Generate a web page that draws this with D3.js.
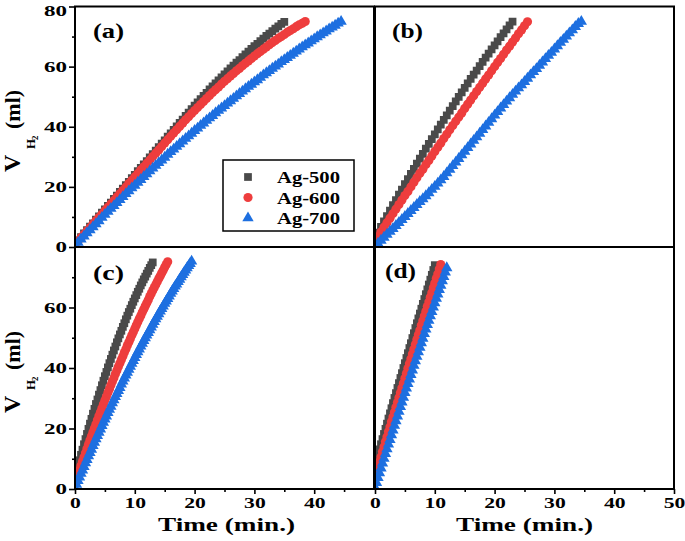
<!DOCTYPE html>
<html><head><meta charset="utf-8">
<script src="https://cdn.jsdelivr.net/npm/d3@7"></script>
<style>body{margin:0;background:#fff} text{font-family:'Liberation Serif','Times New Roman',serif;font-weight:bold}</style>
</head><body><svg id="chart" width="685" height="541"></svg>
<script>
// ---------------- data ----------------
const seriesNames = ["Ag-500", "Ag-600", "Ag-700"];
const panelLabels = ["(a)", "(b)", "(c)", "(d)"];
const xTickLabels = [0, 10, 20, 30, 40, 50];
const yTickLabels = [0, 20, 40, 60, 80];
const sampleIntervals = [0.5, 0.5, 0.25, 0.25]; // min between readings, per panel

// V_H2 (ml) readings, one per sample interval starting at t = 0
const a500 = [1.0,2.2,3.3,4.5,5.6,6.8,7.9,9.1,10.2,11.4,12.5,13.7,14.8,16.0,17.1,18.3,19.4,20.6,21.7,22.9,24.0,25.2,26.3,27.5,28.6,29.8,30.9,32.1,33.2,34.4,35.5,36.7,37.8,39.0,40.1,41.3,42.4,43.6,44.7,45.9,47.0,
  48.1,49.2,50.3,51.3,52.4,53.4,54.4,55.4,56.4,57.4,58.4,59.4,60.3,61.3,62.2,63.2,64.1,65.0,65.9,66.8,67.6,68.5,69.3,70.2,71.0,71.8,72.6,73.4,74.2,74.9];
const a600 = [0.8,1.9,3.1,4.2,5.3,6.4,7.6,8.7,9.8,10.9,12.1,13.2,14.3,15.4,16.6,17.7,18.8,19.9,21.1,22.2,23.3,24.4,25.6,26.7,27.8,28.9,30.1,31.2,32.3,33.4,34.6,35.7,36.8,
  37.9,39.0,40.1,41.2,42.3,43.3,44.4,45.4,46.4,47.4,48.4,49.4,50.4,51.4,52.3,53.2,54.2,55.1,56.0,56.9,57.7,58.6,59.4,60.3,61.1,61.9,62.7,63.5,64.3,65.0,65.8,66.5,67.3,68.0,68.7,69.4,70.0,70.7,71.4,72.0,72.6,73.3,73.9,74.4,75.0];
const a700 = [0.5,1.5,2.6,3.6,4.7,5.7,6.7,7.7,8.7,9.8,10.8,11.8,12.8,13.7,14.7,15.7,16.7,17.7,18.6,19.6,20.5,21.5,22.4,23.4,24.3,25.3,26.2,27.1,28.0,28.9,29.8,30.8,31.7,32.5,33.4,34.3,35.2,36.1,36.9,37.8,38.7,39.5,40.4,41.2,42.1,42.9,43.7,44.6,45.4,46.2,47.0,47.8,48.6,49.4,50.2,51.0,51.8,52.6,53.4,54.1,54.9,55.6,56.4,57.2,57.9,58.6,59.4,60.1,60.8,61.6,62.3,63.0,63.7,64.4,65.1,65.8,66.5,67.2,67.8,68.5,69.2,69.9,70.5,71.2,71.8,72.5,73.1,73.7,74.4,75.0];

const b500 = [3.0,4.8,6.7,8.5,10.3,12.1,13.9,15.6,17.4,19.1,20.9,22.6,24.3,26.0,27.7,29.4,31.0,32.7,34.3,35.9,37.5,39.1,40.7,42.3,43.8,45.4,46.9,48.4,49.9,51.4,52.9,54.4,55.9,57.3,58.7,60.2,61.6,63.0,64.3,65.7,67.1,68.4,69.8,71.1,72.4,73.7,75.0];
const b600 = [2.0,3.5,5.0,6.6,8.1,9.6,11.1,12.6,14.1,15.6,17.1,18.5,20.0,21.5,23.0,24.5,25.9,27.4,28.8,30.3,31.8,33.2,34.6,36.1,37.5,39.0,40.4,41.8,43.2,44.6,46.1,47.5,48.9,50.3,51.7,53.1,54.5,55.9,57.2,58.6,60.0,61.4,62.7,64.1,65.5,66.8,68.2,69.5,70.9,72.2,73.6,74.9];
const b700 = [0.2,1.2,2.2,3.2,4.2,5.2,6.1,7.1,8.1,9.1,10.1,11.1,12.1,13.1,14.1,15.1,16.0,17.0,18.0,19.1,20.1,
  21.2,22.3,23.4,24.6,25.8,27.0,28.2,29.4,30.6,31.8,33.0,34.2,35.4,36.6,37.8,39.0,40.2,41.4,42.6,43.8,45.0,46.2,47.3,48.5,
  49.6,50.7,51.8,52.9,53.9,55.0,56.1,57.2,58.3,59.3,60.4,61.5,62.6,63.7,64.7,65.8,66.9,68.0,69.0,70.1,71.2,72.2,73.3,74.3,75.0];

const c500 = [4.0,5.8,7.7,9.5,11.3,13.0,14.8,16.5,18.2,19.9,21.6,23.2,24.9,26.5,28.1,29.6,31.2,32.7,34.3,35.8,37.3,38.7,40.2,41.6,43.0,44.4,45.8,47.1,48.5,49.8,51.1,52.3,53.6,54.8,56.1,57.3,58.5,59.6,60.8,61.9,63.0,64.1,65.2,66.2,67.3,68.3,69.3,70.2,71.2,72.1,73.1,74.0,74.9];
const c600 = [2.0,3.4,4.9,6.3,7.7,9.1,10.5,11.9,13.3,14.7,16.1,17.4,18.8,20.1,21.4,22.8,24.1,25.4,26.7,28.0,29.3,30.5,31.8,33.0,34.3,35.5,36.7,38.0,39.2,40.4,41.6,42.7,43.9,45.1,46.2,47.4,48.5,49.7,50.8,51.9,53.0,54.1,55.2,56.3,57.3,58.4,59.4,60.5,61.5,62.5,63.6,64.6,65.6,66.6,67.5,68.5,69.5,70.4,71.4,72.3,73.3,74.2,75.1];
const c700 = [0.3,1.5,2.7,3.9,5.1,6.2,7.4,8.6,9.7,10.9,12.0,13.1,14.3,15.4,16.5,17.6,18.7,19.8,20.9,22.0,23.1,24.1,25.2,26.3,27.3,28.4,29.4,30.5,31.5,32.5,33.5,34.6,35.6,36.6,37.6,38.5,39.5,40.5,41.5,42.4,43.4,44.4,45.3,46.2,47.2,48.1,49.0,49.9,50.8,51.7,52.6,53.5,54.4,55.3,56.2,57.0,57.9,58.8,59.6,60.4,61.3,62.1,62.9,63.7,64.6,65.4,66.2,67.0,67.7,68.5,69.3,70.1,70.8,71.6,72.3,73.1,73.8,74.5,75.3];

const d500 = [8.0,9.7,11.4,13.1,14.8,16.5,18.2,19.9,21.6,23.3,25.0,26.7,28.4,30.1,31.7,33.4,35.0,36.7,38.3,40.0,41.6,43.3,44.9,46.6,48.2,49.9,51.5,53.2,54.8,56.4,58.0,59.6,61.2,62.8,64.4,66.0,67.6,69.2,70.8,72.4,74.0];
const d600 = [4.0,5.6,7.3,9.0,10.6,12.3,13.9,15.6,17.2,18.9,20.5,22.2,23.8,25.4,27.0,28.6,30.2,31.8,33.4,35.0,36.6,38.2,39.8,41.4,43.0,44.6,46.2,47.8,49.4,51.0,52.5,54.1,55.6,57.2,58.7,60.3,61.8,63.4,64.9,66.5,68.0,69.6,71.1,72.7,74.2];
const d700 = [0.5,2.1,3.7,5.3,6.9,8.5,10.1,11.7,13.2,14.8,16.3,17.9,19.4,21.0,22.5,24.1,25.6,27.2,28.7,30.3,31.8,33.3,34.8,36.3,37.8,39.3,40.8,42.3,43.8,45.3,46.8,48.3,49.8,51.3,52.8,54.3,55.7,57.2,58.6,60.1,61.5,63.0,64.4,65.9,67.3,68.8,70.2,71.7,73.1];

const panelSeries = [[a500, a600, a700], [b500, b600, b700], [c500, c600, c700], [d500, d600, d700]];

// ---------------- style / layout ----------------
const colors = ["#4a4a4a", "#ee3d3d", "#1d6fe0"];
const symbols = [d3.symbolSquare, d3.symbolCircle, d3.symbolTriangle];
const symSizes = [60, 66, 56];
const layout = [
  {x0: 75, x1: 374, top: 6.5, bottom: 247, left: true, bottomAxis: false},
  {x0: 375, x1: 674, top: 6.5, bottom: 247, left: false, bottomAxis: false},
  {x0: 75, x1: 374, top: 247, bottom: 489, left: true, bottomAxis: true, xLabels: xTickLabels.slice(0, 5)},
  {x0: 375, x1: 674, top: 247, bottom: 489, left: false, bottomAxis: true, xLabels: xTickLabels}
];
const labelPos = [[93, 38], [392, 38], [93, 280], [385, 278]];

const svg = d3.select("#chart");
const defs = svg.append("defs");

layout.forEach((p, pi) => {
  const x = d3.scaleLinear().domain([0, 50]).range([p.x0, p.x1]);
  const y = d3.scaleLinear().domain([0, 80]).range([p.bottom, p.top]);
  const g = svg.append("g");

  defs.append("clipPath").attr("id", "clip" + pi)
    .append("rect").attr("x", p.x0).attr("y", p.top).attr("width", p.x1 - p.x0).attr("height", p.bottom - p.top);

  // points
  const pg = g.append("g").attr("clip-path", `url(#clip${pi})`);
  panelSeries[pi].forEach((vals, si) => {
    const sym = d3.symbol().type(symbols[si]).size(symSizes[si]);
    pg.append("g").selectAll("path").data(vals).join("path")
      .attr("d", sym)
      .attr("transform", (v, i) => `translate(${x(i * sampleIntervals[pi])},${y(v)})`)
      .attr("fill", colors[si]);
  });

  // left axis
  if (p.left) {
    const labelled = pi === 0 ? yTickLabels : yTickLabels.slice(0, 4);
    const ax = g.append("g").attr("transform", `translate(${p.x0},0)`)
      .call(d3.axisLeft(y).tickValues(labelled).tickSize(6).tickPadding(2).tickFormat(d3.format("d")));
    ax.select(".domain").remove();
    ax.selectAll("line").attr("stroke", "#000").attr("stroke-width", 1.6);
    ax.selectAll("text").attr("font-size", 15.5).attr("fill", "#000")
      .attr("dy", d => d === 80 ? "0.55em" : "0.32em")
      .attr("textLength", d => String(d).length * 11.5).attr("lengthAdjust", "spacingAndGlyphs");
    const minor = g.append("g").attr("transform", `translate(${p.x0},0)`)
      .call(d3.axisLeft(y).tickValues([10, 30, 50, 70]).tickSize(3).tickFormat(""));
    minor.select(".domain").remove();
    minor.selectAll("line").attr("stroke", "#000").attr("stroke-width", 1.6);
  }
  // bottom axis
  if (p.bottomAxis) {
    const ax = g.append("g").attr("transform", `translate(0,${p.bottom})`)
      .call(d3.axisBottom(x).tickValues(p.xLabels).tickSize(5).tickPadding(3).tickFormat(d3.format("d")));
    ax.select(".domain").remove();
    ax.selectAll("line").attr("stroke", "#000").attr("stroke-width", 1.6);
    ax.selectAll("text").attr("font-size", 15.5).attr("fill", "#000")
      .attr("textLength", d => String(d).length * 10.8).attr("lengthAdjust", "spacingAndGlyphs");
    const minor = g.append("g").attr("transform", `translate(0,${p.bottom})`)
      .call(d3.axisBottom(x).tickValues([5, 15, 25, 35, 45]).tickSize(3).tickFormat(""));
    minor.select(".domain").remove();
    minor.selectAll("line").attr("stroke", "#000").attr("stroke-width", 1.6);

    g.append("text").text("Time (min.)")
      .attr("x", (p.x0 + p.x1) / 2 + (pi === 2 ? 2 : 0)).attr("y", 531)
      .attr("text-anchor", "middle").attr("font-size", 19.5)
      .attr("textLength", 137).attr("lengthAdjust", "spacingAndGlyphs");
  }

  // frame
  g.append("rect").attr("x", p.x0).attr("y", p.top).attr("width", p.x1 - p.x0).attr("height", p.bottom - p.top)
    .attr("fill", "none").attr("stroke", "#000").attr("stroke-width", 2);

  // panel label
  g.append("text").text(panelLabels[pi])
    .attr("x", labelPos[pi][0]).attr("y", labelPos[pi][1]).attr("font-size", 20)
    .attr("textLength", 31).attr("lengthAdjust", "spacingAndGlyphs");

  // y label
  if (p.left) {
    const off = pi === 0 ? 0 : 241;
    const yl = g.append("g");
    yl.append("text").text("V").attr("transform", `translate(20,${172 + off}) rotate(-90)`).attr("font-size", 24);
    yl.append("text").text("H").attr("transform", `translate(35,${149 + off}) rotate(-90)`).attr("font-size", 13);
    yl.append("text").text("2").attr("transform", `translate(38,${140 + off}) rotate(-90)`).attr("font-size", 9);
    yl.append("text").text("(ml)").attr("transform", `translate(20,${129 + off}) rotate(-90)`).attr("font-size", 22);
  }
});

// legend in panel (a)
const lg = svg.append("g");
lg.append("rect").attr("x", 223).attr("y", 160).attr("width", 131).attr("height", 71)
  .attr("fill", "#fff").attr("stroke", "#000").attr("stroke-width", 1.5);
const rowY = [177, 197.5, 218];
seriesNames.forEach((name, i) => {
  lg.append("path").attr("d", d3.symbol().type(symbols[i]).size(symSizes[i])())
    .attr("transform", `translate(248,${rowY[i]})`).attr("fill", colors[i]);
  lg.append("text").text(name).attr("x", 277).attr("y", rowY[i] + 6).attr("font-size", 17)
    .attr("textLength", 63).attr("lengthAdjust", "spacingAndGlyphs");
});
</script>
</body></html>
